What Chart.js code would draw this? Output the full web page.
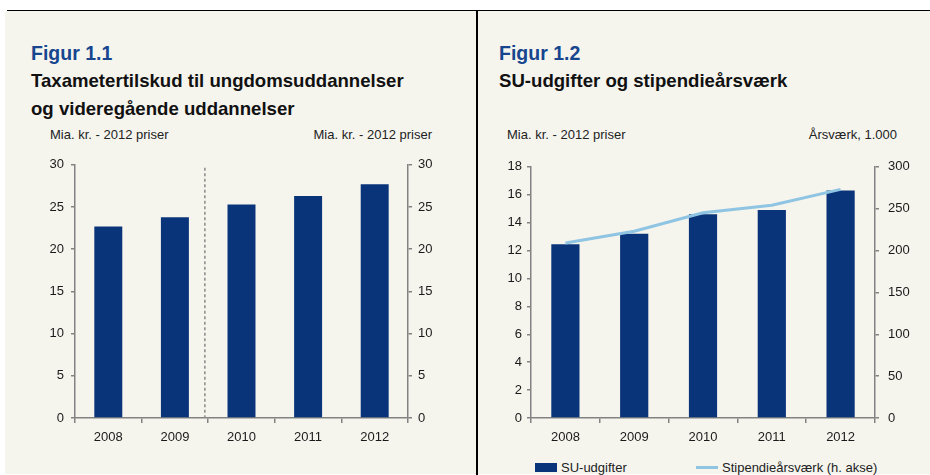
<!DOCTYPE html>
<html>
<head>
<meta charset="utf-8">
<script src="https://cdn.jsdelivr.net/npm/chart.js@4/dist/chart.umd.min.js"></script>
<style>
  html, body { margin: 0; padding: 0; }
  body { width: 930px; height: 475px; position: relative; overflow: hidden; background: #ffffff;
         font-family: "Liberation Sans", Arial, sans-serif; color: #111; }
  .abs { position: absolute; white-space: nowrap; }
  .fig { font-size: 19.5px; font-weight: bold; color: #17468f; line-height: 19.5px; }
  .ttl { font-size: 18.6px; font-weight: bold; color: #111; line-height: 27.5px; }
  .unit { font-size: 13px; line-height: 13px; color: #222; }
  canvas { position: absolute; }
  .leg { font-size: 13px; line-height: 13px; color: #222; }
</style>
</head>
<body>
<div class="abs" style="left:5px;top:11px;width:925px;height:463px;background:#f5f5ee;"></div>
<div class="abs" style="left:7px;top:9.5px;width:923px;height:1.5px;background:#000;"></div>
<div class="abs" style="left:476px;top:10px;width:1.5px;height:465px;background:#000;"></div>

<div class="abs fig" style="left:31px;top:44px;">Figur 1.1</div>
<div class="abs ttl" style="left:31px;top:67.3px;">Taxametertilskud til ungdomsuddannelser<br>og videregående uddannelser</div>
<div class="abs unit" style="left:50px;top:128px;">Mia. kr. - 2012 priser</div>
<div class="abs unit" style="right:498px;top:128px;">Mia. kr. - 2012 priser</div>

<div class="abs fig" style="left:499px;top:44px;">Figur 1.2</div>
<div class="abs ttl" style="left:499px;top:67.3px;">SU-udgifter og stipendieårsværk</div>
<div class="abs unit" style="left:507px;top:128px;">Mia. kr. - 2012 priser</div>
<div class="abs unit" style="right:33px;top:128px;">Årsværk, 1.000</div>

<canvas id="c1" width="470" height="300" style="left:0px;top:150px;"></canvas>
<canvas id="c2" width="454" height="300" style="left:476px;top:150px;"></canvas>

<div id="legend"></div>

<script>
// ---------- data ----------
const years = ["2008", "2009", "2010", "2011", "2012"];
const taxameter = [22.7, 23.8, 25.3, 26.3, 27.7];          // Mia. kr. - 2012 priser
const suUdgifter = [12.45, 13.2, 14.6, 14.9, 16.3];         // Mia. kr. - 2012 priser
const stipendieAarsvaerk = [209, 223, 245, 254, 273];       // Årsværk, 1.000 (h. akse)
const seriesNames = ["SU-udgifter", "Stipendieårsværk (h. akse)"];
const breakPosition = 1.45;  // dashed separator between 2009 and 2010

// ---------- styles ----------
const FONT = '"Liberation Sans", Arial, sans-serif';
const BAR = '#0a347a';
const LINE = '#8fc4e3';
const AXIS = '#828282';
const TXT = '#1a1a1a';
Chart.defaults.font.family = FONT;
Chart.defaults.font.size = 13;
Chart.defaults.color = TXT;
Chart.defaults.animation = false;

function yAxis(pos, min, max, step, width, tickLen, pad) {
  return {
    position: pos, min: min, max: max,
    ticks: { stepSize: step, padding: pad, color: TXT, font: { size: 13 } },
    grid: { display: true, drawOnChartArea: false, drawTicks: true, tickLength: tickLen, color: AXIS, lineWidth: 1.5 },
    border: { display: true, color: AXIS, width: 1.5 },
    afterFit: s => { s.width = width; }
  };
}
function xAxis() {
  return {
    offset: true,
    ticks: { padding: 7, color: TXT, font: { size: 13 } },
    grid: { display: true, offset: true, drawOnChartArea: false, drawTicks: true, tickLength: 5, color: AXIS, lineWidth: 1.5 },
    border: { display: true, color: AXIS, width: 1.5 },
    afterFit: s => { s.height = 32; }
  };
}

const dashedBreak = {
  id: 'dashedBreak',
  afterDatasetsDraw(chart) {
    const x = chart.scales.x;
    const a = x.getPixelForValue(Math.floor(breakPosition));
    const b = x.getPixelForValue(Math.ceil(breakPosition));
    const px = a + (b - a) * (breakPosition - Math.floor(breakPosition));
    const ctx = chart.ctx;
    ctx.save();
    ctx.strokeStyle = '#8a8a8a';
    ctx.lineWidth = 1.5;
    ctx.setLineDash([3, 2.5]);
    ctx.beginPath();
    ctx.moveTo(px, chart.chartArea.top + 3);
    ctx.lineTo(px, chart.chartArea.bottom);
    ctx.stroke();
    ctx.restore();
  }
};

new Chart(document.getElementById('c1'), {
  type: 'bar',
  data: {
    labels: years,
    datasets: [{ data: taxameter, backgroundColor: BAR, barPercentage: 0.42, categoryPercentage: 1, yAxisID: 'y' }]
  },
  options: {
    responsive: false,
    layout: { padding: { top: 12, left: 0, right: 0, bottom: 0 } },
    plugins: { legend: { display: false }, tooltip: { enabled: false } },
    scales: {
      x: xAxis(),
      y: yAxis('left', 0, 30, 5, 75, 4, 7),
      y2: yAxis('right', 0, 30, 5, 62, 4, 6)
    }
  },
  plugins: [dashedBreak]
});

const chart2 = new Chart(document.getElementById('c2'), {
  type: 'bar',
  data: {
    labels: years,
    datasets: [
      { type: 'bar', label: seriesNames[0], data: suUdgifter, backgroundColor: BAR, barPercentage: 0.41, categoryPercentage: 1, yAxisID: 'y', order: 2 },
      { type: 'line', label: seriesNames[1], data: stipendieAarsvaerk, borderColor: LINE, backgroundColor: LINE, borderWidth: 3, pointRadius: 0, tension: 0, yAxisID: 'y2', order: 1 }
    ]
  },
  options: {
    responsive: false,
    layout: { padding: { top: 12, left: 0, right: 0, bottom: 0 } },
    plugins: { legend: { display: false }, tooltip: { enabled: false } },
    scales: {
      x: xAxis(),
      y: yAxis('left', 0, 18, 2, 55, 4, 5),
      y2: yAxis('right', 0, 300, 50, 55, 4, 9)
    }
  }
});

// legend built from the chart's own datasets
const leg = document.getElementById('legend');
const legendPos = [535, 696];
chart2.data.datasets.forEach((ds, i) => {
  const sw = document.createElement('div');
  sw.className = 'abs';
  if (ds.type === 'bar') {
    sw.style.cssText = `left:${legendPos[i]}px;top:463px;width:22px;height:9px;background:${ds.backgroundColor};`;
  } else {
    sw.style.cssText = `left:${legendPos[i]}px;top:466px;width:22px;height:3px;background:${ds.borderColor};`;
  }
  leg.appendChild(sw);
  const t = document.createElement('div');
  t.className = 'abs leg';
  t.style.cssText = `left:${legendPos[i] + 26}px;top:461px;`;
  t.textContent = ds.label;
  leg.appendChild(t);
});
</script>
</body>
</html>
